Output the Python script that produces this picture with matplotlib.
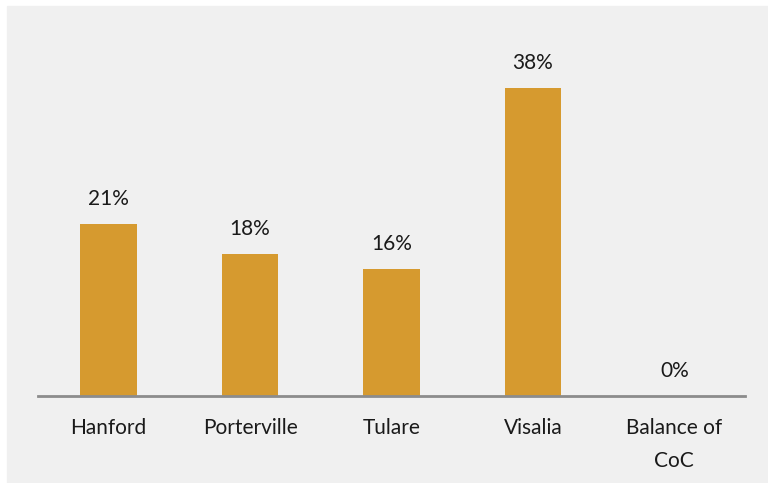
import matplotlib
matplotlib.use("Agg")
import matplotlib.pyplot as plt

categories = ["Hanford", "Porterville", "Tulare", "Visalia", "Balance of\nCoC"]
shares = [0.212, 0.176, 0.157, 0.38, 0.0]
labels = ["21%", "18%", "16%", "38%", "0%"]

W, H = 768, 483
fig = plt.figure(figsize=(W / 100, H / 100), dpi=100)
fig.patch.set_facecolor("white")

# grey panel behind the chart
fig.patches.append(plt.Rectangle((7 / W, 0), 1 - 7 / W, 1 - 6 / H,
                                 transform=fig.transFigure, color="#f0f0f0", zorder=-10))

ax = fig.add_axes([38 / W, 1 - 396 / H, (745 - 38) / W, (396 - 56) / H])
ax.set_facecolor("none")

x = range(len(categories))
ax.bar(x, shares, width=0.4, color="#d69a2f")

for xi, v, lab in zip(x, shares, labels):
    ax.annotate(lab, (xi, v), xytext=(0, 18), textcoords="offset points",
                ha="center", va="center", fontsize=15, family="Lato", color="#1a1a1a")

ax.set_xlim(-0.5, 4.5)
ax.set_ylim(0, 0.42)
ax.set_xticks(list(x))
ax.set_xticklabels(categories, fontsize=15, family="Lato", color="#1a1a1a", linespacing=1.85)
ax.tick_params(axis="x", length=0, pad=15.5)
ax.set_yticks([])
for s in ["top", "right", "left"]:
    ax.spines[s].set_visible(False)
ax.spines["bottom"].set_color("#8c8c8c")
ax.spines["bottom"].set_linewidth(2)

fig.savefig("out.png", dpi=100)
